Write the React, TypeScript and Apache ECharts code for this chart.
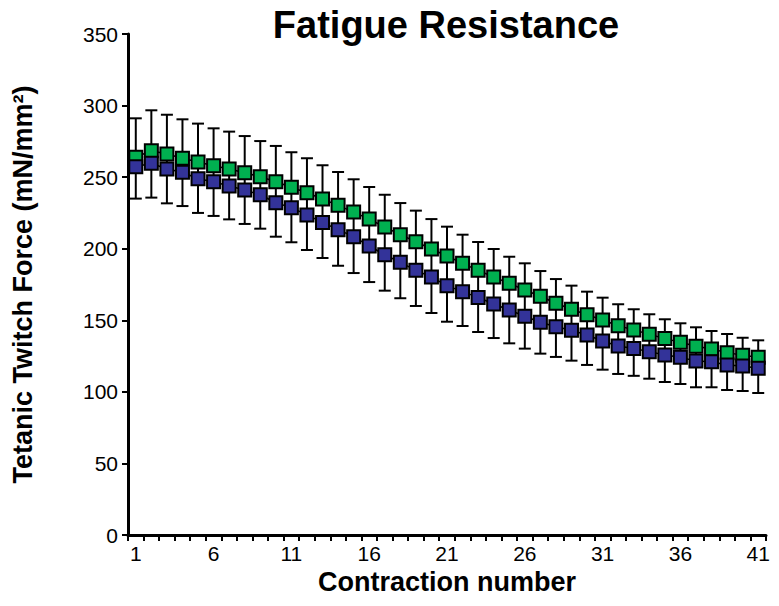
import React, { useEffect, useRef } from "react";
import * as echarts from "echarts";

const categories = ["1","2","3","4","5","6","7","8","9","10","11","12","13","14","15","16","17","18","19","20","21","22","23","24","25","26","27","28","29","30","31","32","33","34","35","36","37","38","39","40","41"];

const greenMean = [263.9, 268.5, 266.2, 263.2, 260.6, 258.0, 255.7, 253.1, 250.3, 246.8, 242.9, 239.1, 234.7, 230.3, 225.6, 220.7, 215.2, 209.8, 204.9, 199.8, 194.9, 189.8, 184.9, 180.2, 175.8, 171.2, 166.8, 161.9, 157.7, 153.9, 150.2, 146.2, 143.3, 140.2, 137.2, 134.6, 131.8, 129.9, 127.4, 125.5, 124.1];
const blueMean = [257.3, 259.7, 255.7, 253.4, 248.9, 246.8, 243.8, 241.0, 237.7, 232.1, 228.7, 223.6, 218.4, 213.3, 208.4, 201.9, 195.8, 190.5, 184.9, 180.2, 174.2, 170.0, 166.0, 161.4, 157.2, 152.8, 148.6, 145.5, 143.0, 139.7, 135.5, 132.0, 130.3, 128.1, 125.7, 124.1, 121.6, 121.1, 118.8, 118.1, 116.5];
const greenErr = [27.2, 28.2, 27.4, 27.2, 26.8, 26.1, 26.1, 25.6, 24.9, 25.0, 24.5, 24.1, 23.6, 23.3, 22.9, 22.4, 22.5, 22.1, 21.7, 20.9, 20.5, 20.0, 19.8, 19.6, 18.6, 18.6, 17.6, 16.9, 16.5, 16.1, 15.6, 15.0, 14.4, 14.0, 13.5, 13.3, 13.3, 12.6, 13.0, 12.3, 11.9];
const blueErr = [22.3, 24.0, 24.0, 23.6, 23.9, 23.9, 23.3, 23.7, 23.7, 23.7, 24.2, 24.5, 24.9, 25.2, 25.4, 25.2, 25.1, 25.1, 24.9, 25.1, 25.2, 24.0, 24.2, 23.8, 23.3, 22.6, 21.9, 21.1, 21.2, 20.9, 20.0, 19.5, 19.1, 18.9, 18.8, 18.6, 18.4, 17.9, 17.5, 17.5, 17.3];

const yTicks = { min: 0, max: 350, interval: 50 };

const FONT = "'Liberation Sans', Arial, sans-serif";

export default function App() {
  const ref = useRef<HTMLDivElement>(null);
  useEffect(() => {
    document.body.style.margin = "0";
    if (!ref.current) return;
    const chart = echarts.init(ref.current, null, { renderer: "svg" });
    const errData = categories.map((_, i) => [i, greenMean[i] + greenErr[i], blueMean[i] - blueErr[i]]);
    chart.setOption({
      animation: false,
      backgroundColor: "#ffffff",
      textStyle: { fontFamily: FONT },
      title: {
        text: "Fatigue Resistance",
        left: 441,
        top: 1,
        textAlign: "center",
        textStyle: { fontFamily: FONT, fontWeight: "bold", fontSize: 38, color: "#000" },
      },
      grid: { left: 128, right: 13, top: 34, bottom: 71, containLabel: false, outerBoundsMode: "none" },
      xAxis: {
        type: "category",
        data: categories,
        boundaryGap: true,
        name: "Contraction number",
        nameLocation: "middle",
        nameGap: 33,
        nameTextStyle: { fontFamily: FONT, fontWeight: "bold", fontSize: 27, color: "#000" },
        axisLine: { show: true, lineStyle: { color: "#000", width: 3 } },
        axisTick: { show: true, interval: 0, alignWithLabel: false, length: 6, lineStyle: { color: "#000", width: 2 } },
        axisLabel: { interval: 4, fontFamily: FONT, fontSize: 21, color: "#000", margin: 8 },
        splitLine: { show: false },
      },
      yAxis: {
        type: "value",
        min: yTicks.min,
        max: yTicks.max,
        interval: yTicks.interval,
        name: "Tetanic Twitch Force (mN/mm²)",
        nameLocation: "middle",
        nameGap: 92,
        nameTextStyle: { fontFamily: FONT, fontWeight: "bold", fontSize: 27, color: "#000" },
        axisLine: { show: true, lineStyle: { color: "#000", width: 3 } },
        axisTick: { show: true, length: 6, lineStyle: { color: "#000", width: 2 } },
        axisLabel: { fontFamily: FONT, fontSize: 21, color: "#000", margin: 10 },
        splitLine: { show: false },
      },
      series: [
        {
          type: "custom",
          name: "err",
          data: errData,
          z: 1,
          renderItem: (params: any, api: any) => {
            const x = api.value(0);
            const top = api.coord([x, api.value(1)]);
            const bot = api.coord([x, api.value(2)]);
            const hw = 6;
            const style = { stroke: "#000", lineWidth: 2 };
            return {
              type: "group",
              children: [
                { type: "line", shape: { x1: top[0], y1: top[1], x2: bot[0], y2: bot[1] }, style },
                { type: "line", shape: { x1: top[0] - hw, y1: top[1], x2: top[0] + hw, y2: top[1] }, style },
                { type: "line", shape: { x1: bot[0] - hw, y1: bot[1], x2: bot[0] + hw, y2: bot[1] }, style },
              ],
            };
          },
        },
        {
          type: "line",
          name: "Green",
          data: greenMean,
          z: 3,
          symbol: "rect",
          symbolSize: 13,
          showAllSymbol: true,
          lineStyle: { color: "#000", width: 1.5 },
          itemStyle: { color: "#00B050", borderColor: "#000", borderWidth: 2 },
        },
        {
          type: "line",
          name: "Blue",
          data: blueMean,
          z: 4,
          symbol: "rect",
          symbolSize: 13,
          showAllSymbol: true,
          lineStyle: { color: "#000", width: 1.5 },
          itemStyle: { color: "#333399", borderColor: "#000", borderWidth: 2 },
        },
      ],
    });
    return () => chart.dispose();
  }, []);
  return <div ref={ref} style={{ width: 779, height: 606 }} />;
}
